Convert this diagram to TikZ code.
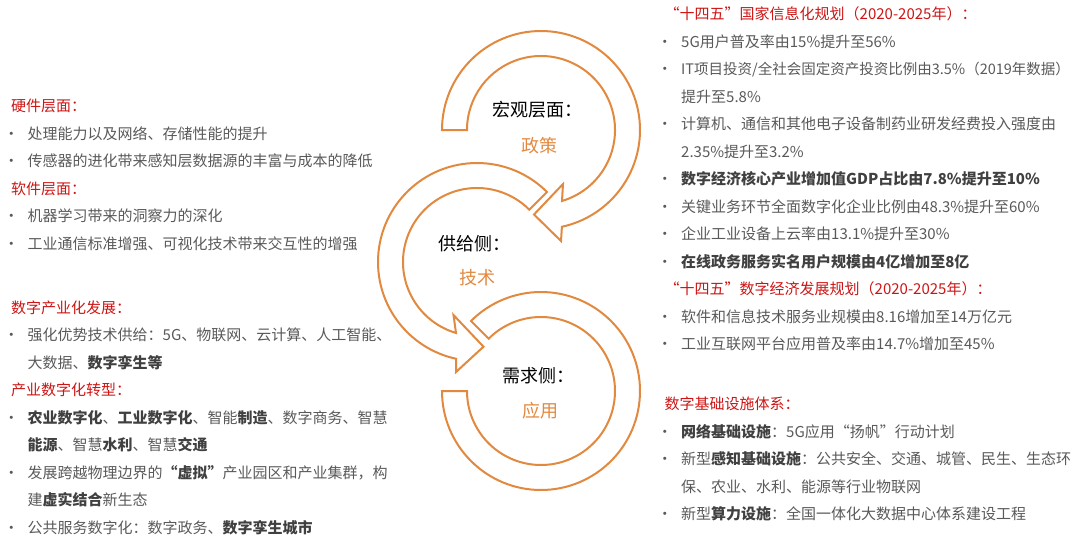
\documentclass[tikz,border=0pt]{standalone}
\usepackage{fontspec}
\setmainfont{Noto Sans CJK SC}
\usetikzlibrary{positioning}
\definecolor{bandorange}{RGB}{226,137,64}
\definecolor{headred}{RGB}{205,20,20}
\definecolor{textgray}{RGB}{89,89,89}
\definecolor{keygray}{RGB}{64,64,64}
\newcommand{\keyw}[1]{{\bfseries\color{keygray}#1}}

\begin{document}
\begin{tikzpicture}[x=1pt, y=1pt,
        font=\fontsize{15}{18}\selectfont,
        node distance=13.5pt, % 行距 27.1pt
        txt/.style={anchor=west, inner sep=0pt, text height=12.5pt, text depth=1.1pt, text=textgray},
        head/.style={txt, text=headred},
        item/.style={txt,
            label={[xshift=-15.5pt, inner sep=0pt, text height=12.5pt, text depth=1.1pt, text=textgray]left:\makebox[0pt]{\textbullet}}},
        nextrow/.style={below=of #1.south west, anchor=north west},
        indent/.style={xshift=16.5pt},
        outdent/.style={xshift=-16.5pt},
        stage/.style={inner sep=0pt, font=\fontsize{18}{20}\selectfont, text height=15pt, text depth=1.3pt, text=black},
        stagekey/.style={stage, text=bandorange},
        band/.style={draw=bandorange, line width=2pt, fill=white, line join=miter}
    ]
    \useasboundingbox (0,0) rectangle (1080,-536);

    % --- 三个环形箭头 ---
    \draw[band, shift={(541,-130)}] (180:99) arc[start angle=180, end angle=-77.8, radius=99]
        -- (20,-111) -- (-7,-84.5) -- (22,-54) -- (-73.5:74)
        arc[start angle=-73.5, end angle=180, radius=74] -- cycle;
    \draw[band, shift={(477,-262)}] (45:99) arc[start angle=45, end angle=257.8, radius=99]
        -- (-21,-110) -- (6.5,-84.7) -- (-23.5,-53) -- (253.5:74)
        arc[start angle=253.5, end angle=45, radius=74] -- cycle;
    \draw[band, shift={(541,-391)}] (180:99) arc[start angle=180, end angle=495, radius=99]
        -- (495:74) arc[start angle=495, end angle=180, radius=74] -- cycle;

    % --- 环内标签 ---
    \node[stage] (macro) at (537,-110) {宏观层面：};
    \node[stagekey] (policy) at (539.7,-146) {政策};
    \node[stage] (supply) at (474.5,-244) {供给侧：};
    \node[stagekey] (tech) at (477,-277.5) {技术};
    \node[stage] (demand) at (538,-376) {需求侧：};
    \node[stagekey] (app) at (540,-410.7) {应用};

    % --- 左侧：硬件 / 软件 ---
    \node[head] (hw) at (11,-106) {硬件层面：};
    \node[item, nextrow=hw, indent] (hw1) {处理能力以及网络、存储性能的提升};
    \node[item, nextrow=hw1] (hw2) {传感器的进化带来感知层数据源的丰富与成本的降低};
    \node[head, nextrow=hw2, outdent] (sw) {软件层面：};
    \node[item, nextrow=sw, indent] (sw1) {机器学习带来的洞察力的深化};
    \node[item, nextrow=sw1] (sw2) {工业通信标准增强、可视化技术带来交互性的增强};

    % --- 左侧：数字产业化 / 产业数字化 ---
    \node[head] (dp) at (11,-307.3) {数字产业化发展：};
    \node[item, nextrow=dp, indent] (dp1) {强化优势技术供给：5G、物联网、云计算、人工智能、};
    \node[txt, nextrow=dp1] (dp1b) {大数据、\keyw{数字孪生等}};
    \node[head, nextrow=dp1b, outdent] (dt) {产业数字化转型：};
    \node[item, nextrow=dt, indent] (dt1) {\keyw{农业数字化}、\keyw{工业数字化}、智能\keyw{制造}、数字商务、智慧};
    \node[txt, nextrow=dt1] (dt1b) {\keyw{能源}、智慧\keyw{水利}、智慧\keyw{交通}};
    \node[item, nextrow=dt1b] (dt2) {发展跨越物理边界的\keyw{“虚拟”}产业园区和产业集群，构};
    \node[txt, nextrow=dt2] (dt2b) {建\keyw{虚实结合}新生态};
    \node[item, nextrow=dt2b] (dt3) {公共服务数字化：数字政务、\keyw{数字孪生城市}};

    % --- 右侧：规划指标 ---
    \node[head] (plan) at (664.5,-14) {“十四五”国家信息化规划（2020-2025年）：};
    \node[item, nextrow=plan, indent] (p1) {5G用户普及率由15\%提升至56\%};
    \node[item, nextrow=p1, font=\fontsize{14.5}{18}\selectfont] (p2) {IT项目投资/全社会固定资产投资比例由3.5\%（2019年数据）};
    \node[txt, nextrow=p2] (p2b) {提升至5.8\%};
    \node[item, nextrow=p2b] (p3) {计算机、通信和其他电子设备制药业研发经费投入强度由};
    \node[txt, nextrow=p3] (p3b) {2.35\%提升至3.2\%};
    \node[item, nextrow=p3b] (p4) {\keyw{数字经济核心产业增加值GDP占比由7.8\%提升至10\%}};
    \node[item, nextrow=p4] (p5) {关键业务环节全面数字化企业比例由48.3\%提升至60\%};
    \node[item, nextrow=p5] (p6) {企业工业设备上云率由13.1\%提升至30\%};
    \node[item, nextrow=p6] (p7) {\keyw{在线政务服务实名用户规模由4亿增加至8亿}};
    \node[head, nextrow=p7, outdent] (econ) {“十四五”数字经济发展规划（2020-2025年）：};
    \node[item, nextrow=econ, indent] (e1) {软件和信息技术服务业规模由8.16增加至14万亿元};
    \node[item, nextrow=e1] (e2) {工业互联网平台应用普及率由14.7\%增加至45\%};

    % --- 右侧：数字基础设施 ---
    \node[head] (infra) at (664.5,-404) {数字基础设施体系：};
    \node[item, nextrow=infra, indent] (i1) {\keyw{网络基础设施}：5G应用“扬帆”行动计划};
    \node[item, nextrow=i1] (i2) {新型\keyw{感知基础设施}：公共安全、交通、城管、民生、生态环};
    \node[txt, nextrow=i2] (i2b) {保、农业、水利、能源等行业物联网};
    \node[item, nextrow=i2b] (i3) {新型\keyw{算力设施}：全国一体化大数据中心体系建设工程};
\end{tikzpicture}
\end{document}
